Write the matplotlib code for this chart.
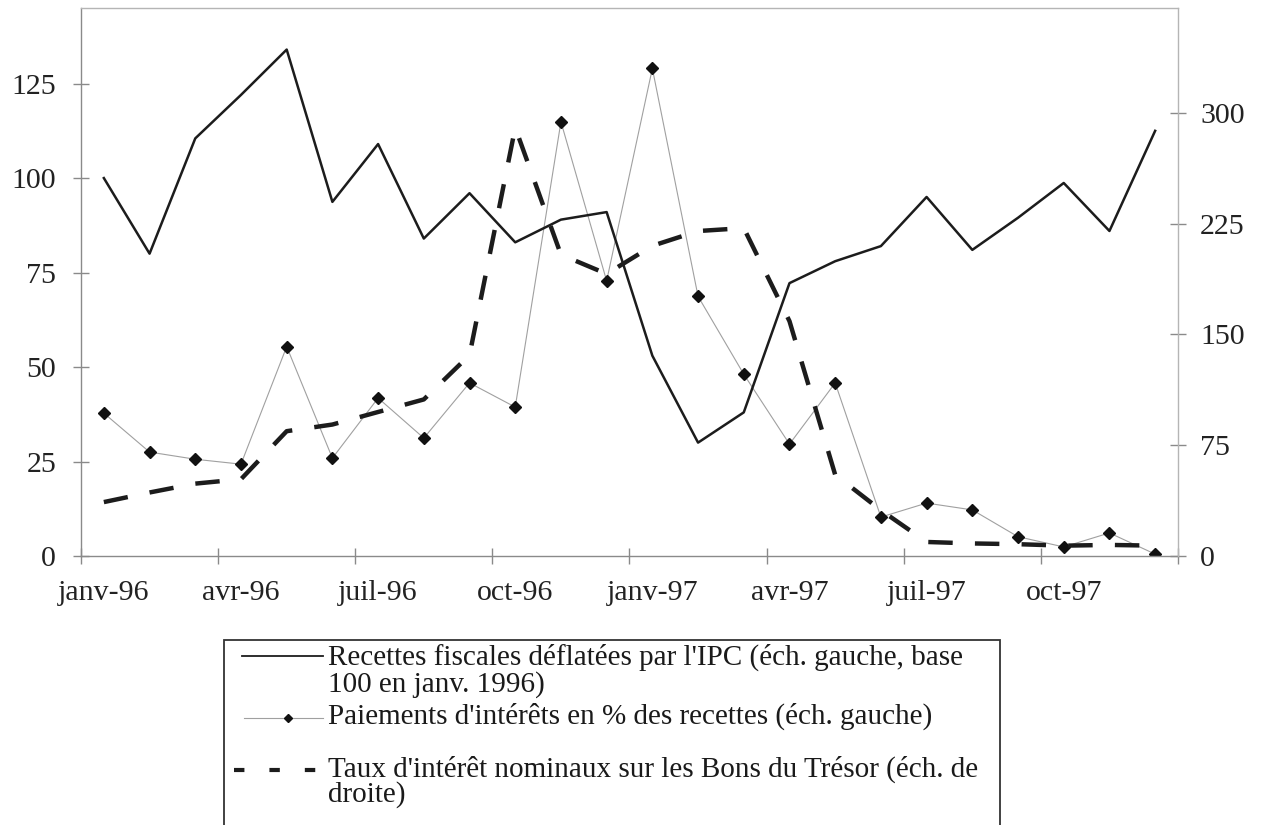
import matplotlib
matplotlib.use("Agg")
import matplotlib.pyplot as plt
from matplotlib.lines import Line2D
from matplotlib.patches import Rectangle
import numpy as np

# ---------------- data ----------------
months = list(range(24))  # janv-96 ... déc-97
tick_labels = ["janv-96", "avr-96", "juil-96", "oct-96",
               "janv-97", "avr-97", "juil-97", "oct-97"]

recettes = [100, 80, 110.5, 122, 134, 93.7, 109, 84, 96, 83, 89, 91,
            53, 30, 38, 72.2, 78, 82, 95, 81, 89.5, 98.7, 86, 112.5]
paiements = [37.8, 27.5, 25.6, 24.3, 55.4, 25.9, 41.8, 31.2, 45.8, 39.4, 114.9, 72.8,
             129, 68.7, 48.1, 29.6, 45.8, 10.3, 14, 12.2, 5.1, 2.4, 6.1, 0.5]
taux = [36.5, 43, 49, 52, 84.5, 89, 97.5, 106, 136, 290, 204, 191,
        210, 220, 222, 159, 55, 31, 9.5, 8.5, 8, 7, 7.5, 7]

left_ticks = [0, 25, 50, 75, 100, 125]
right_ticks = [0, 75, 150, 225, 300]

legend_labels = [
    ["Recettes fiscales déflatées par l'IPC (éch. gauche, base", "100 en janv. 1996)"],
    ["Paiements d'intérêts en % des recettes (éch. gauche)"],
    ["Taux d'intérêt nominaux sur les Bons du Trésor (éch. de", "droite)"],
]

# ---------------- style ----------------
plt.rcParams["font.family"] = ["Liberation Serif", "DejaVu Serif"]
W, H = 1263, 825
fig = plt.figure(figsize=(W / 100, H / 100), dpi=100)
fig.patch.set_facecolor("white")

def fx(px):
    return px / W

def fy(py):
    return 1 - py / H

ax = fig.add_axes([fx(81), fy(556), (1178 - 81) / W, (556 - 8) / H])
ax2 = ax.twinx()

dark = "#1c1c1c"
ax.plot(months, recettes, color=dark, lw=1.8, zorder=3)
ax.plot(months, paiements, color="#a0a0a0", lw=0.8, marker="D", ms=6,
        mfc="#111111", mec="#111111", zorder=2)
ax2.plot(months, taux, color=dark, lw=3.2, dashes=(5.5, 5), dash_capstyle="butt", zorder=4)

ax.set_xlim(-0.5, 23.5)
ax.set_ylim(0, 145)
ax2.set_ylim(0, 371)

ax.set_yticks(left_ticks)
ax.set_yticklabels([str(v) for v in left_ticks])
ax2.set_yticks(right_ticks)
ax2.set_yticklabels([str(v) for v in right_ticks])

ax.set_xticks(np.arange(-0.5, 24, 3))
ax.set_xticklabels([""] * len(np.arange(-0.5, 24, 3)))
ax.set_xticks(np.arange(0, 24, 3), minor=True)
ax.set_xticklabels(tick_labels, minor=True)

tick_col = "#8a8a8a"
fs_tick = 21.5
ax.tick_params(axis="x", which="minor", length=0, pad=17, labelsize=fs_tick, colors="#222222")
ax.tick_params(axis="x", which="major", direction="inout", length=12, width=1, color=tick_col)
ax.tick_params(axis="y", which="major", direction="inout", length=12, width=1,
               color=tick_col, labelsize=fs_tick, labelcolor="#222222", pad=12)
ax2.tick_params(axis="y", which="major", direction="inout", length=12, width=1,
                color=tick_col, labelsize=fs_tick, labelcolor="#222222", pad=10)

for s in ["left", "bottom"]:
    ax.spines[s].set_color(tick_col)
    ax.spines[s].set_linewidth(1)
ax.spines["top"].set_color("#b5b5b5")
ax.spines["top"].set_linewidth(1)
ax.spines["right"].set_visible(False)
for s in ["left", "bottom", "top"]:
    ax2.spines[s].set_visible(False)
ax2.spines["right"].set_color("#b5b5b5")
ax2.spines["right"].set_linewidth(1)

# ---------------- legend (drawn manually, cut by figure bottom) ----------------
fig.add_artist(Rectangle((fx(224), -0.05), (1000 - 224) / W, fy(640) + 0.05,
                         transform=fig.transFigure, fill=False, ec="#333333", lw=1.3))

fig.add_artist(Line2D([fx(242), fx(323)], [fy(656)] * 2, transform=fig.transFigure,
                      color=dark, lw=1.3))
fig.add_artist(Line2D([fx(244), fx(288), fx(323)], [fy(718)] * 3, transform=fig.transFigure,
                      color="#a0a0a0", lw=0.8, marker="D", ms=4.5, markevery=[1],
                      mfc="#111111", mec="#111111"))
fig.add_artist(Line2D([fx(234), fx(322)], [fy(770)] * 2, transform=fig.transFigure,
                      color=dark, lw=3, dashes=(2.5, 6), dash_capstyle="butt"))

leg_fs = 21
baselines = [[665, 692], [724], [777, 802]]
for rows, bls in zip(legend_labels, baselines):
    for txt, bl in zip(rows, bls):
        fig.text(fx(328), fy(bl), txt, fontsize=leg_fs, va="baseline", ha="left",
                 color="#1a1a1a")

fig.savefig("out.png", dpi=100, facecolor="white")
